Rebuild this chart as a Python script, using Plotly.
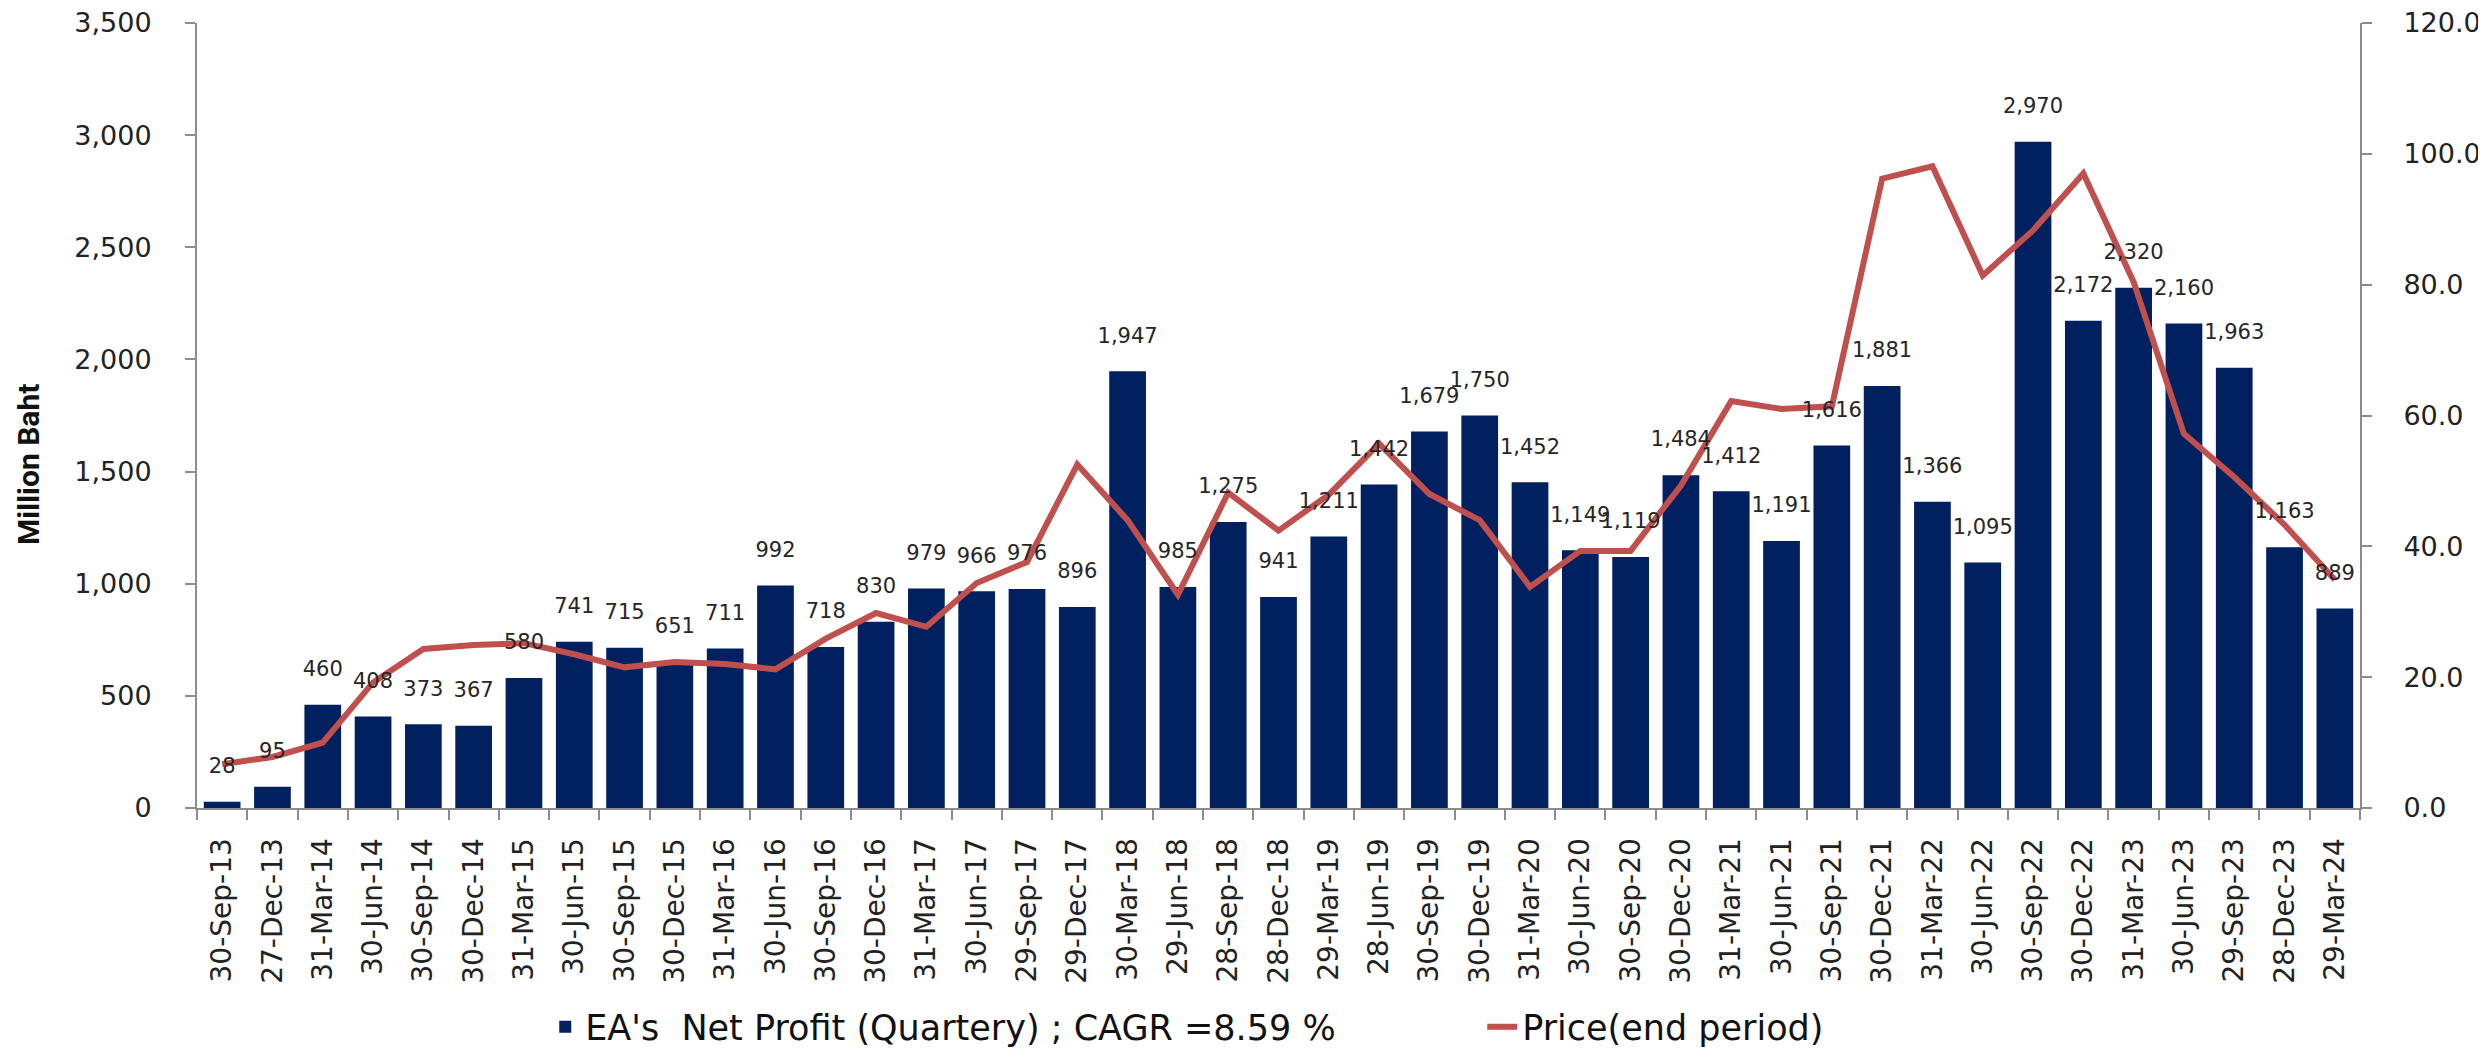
import plotly.graph_objects as go

dates = ["30-Sep-13", "27-Dec-13", "31-Mar-14", "30-Jun-14", "30-Sep-14", "30-Dec-14",
         "31-Mar-15", "30-Jun-15", "30-Sep-15", "30-Dec-15", "31-Mar-16", "30-Jun-16",
         "30-Sep-16", "30-Dec-16", "31-Mar-17", "30-Jun-17", "29-Sep-17", "29-Dec-17",
         "30-Mar-18", "29-Jun-18", "28-Sep-18", "28-Dec-18", "29-Mar-19", "28-Jun-19",
         "30-Sep-19", "30-Dec-19", "31-Mar-20", "30-Jun-20", "30-Sep-20", "30-Dec-20",
         "31-Mar-21", "30-Jun-21", "30-Sep-21", "30-Dec-21", "31-Mar-22", "30-Jun-22",
         "30-Sep-22", "30-Dec-22", "31-Mar-23", "30-Jun-23", "29-Sep-23", "28-Dec-23",
         "29-Mar-24"]

net_profit = [28, 95, 460, 408, 373, 367,
              580, 741, 715, 651, 711, 992,
              718, 830, 979, 966, 976, 896,
              1947, 985, 1275, 941, 1211, 1442,
              1679, 1750, 1452, 1149, 1119, 1484,
              1412, 1191, 1616, 1881, 1366, 1095,
              2970, 2172, 2320, 2160, 1963, 1163,
              889]

price = [6.7, 7.8, 10.0, 19.2, 24.3, 24.9,
         25.2, 23.5, 21.5, 22.3, 22.0, 21.2,
         25.9, 29.8, 27.7, 34.4, 37.6, 52.5,
         44.0, 32.6, 48.2, 42.4, 47.9, 55.7,
         48.0, 44.0, 33.8, 39.3, 39.3, 49.3,
         62.2, 61.0, 61.4, 96.2, 98.1, 81.4,
         88.3, 97.0, 80.4, 57.2, 50.6, 43.3,
         34.9]

bar_name = "EA's\u00a0 Net Profit (Quartery) ; CAGR =8.59 %"
line_name = "Price(end period)"

AXIS_GREY = "#8c8c8c"
TICK_FONT = dict(family="DejaVu Sans", size=27, color="#222222")

fig = go.Figure()

fig.add_trace(go.Bar(
    x=dates, y=net_profit, name=bar_name,
    marker=dict(color="#002060", line=dict(width=0)),
    yaxis="y",
))

fig.add_trace(go.Scatter(
    x=dates, y=price, name=line_name, mode="lines",
    line=dict(color="#C0504D", width=6),
    yaxis="y2",
))

fig.add_trace(go.Scatter(
    x=dates, y=net_profit, mode="markers+text",
    texttemplate="%{y:,}", textposition="top center",
    marker=dict(size=36, color="rgba(0,0,0,0)"),
    textfont=dict(family="DejaVu Sans", size=21, color="#262626"),
    showlegend=False, hoverinfo="skip", cliponaxis=False,
    yaxis="y3",
))

fig.update_layout(
    width=2478, height=1042,
    margin=dict(l=189, r=126, t=15, b=242, pad=0, autoexpand=False),
    paper_bgcolor="white", plot_bgcolor="white",
    bargap=0.27,
    showlegend=True,
    legend=dict(
        orientation="h", x=0.161, xanchor="left", y=-0.279, yanchor="middle",
        font=dict(family="DejaVu Sans", size=35, color="#111111"),
        entrywidth=892, entrywidthmode="pixels",
        bgcolor="rgba(0,0,0,0)",
    ),
    xaxis=dict(
        type="category", tickangle=-90, tickson="boundaries",
        range=[-0.5, len(dates) - 0.5], autorange=False, automargin=False,
        ticks="outside", ticklen=10, tickwidth=2, tickcolor=AXIS_GREY,
        showline=True, linecolor=AXIS_GREY, linewidth=2,
        showgrid=False, tickfont=dict(family="DejaVu Sans", size=28, color="#222222"),
        ticklabelstandoff=17, ticklabeloverflow="allow",
    ),
    yaxis=dict(
        range=[0, 3500], dtick=500, tickformat=",", automargin=False,
        ticks="outside", ticklen=10, tickwidth=2, tickcolor=AXIS_GREY,
        showline=True, linecolor=AXIS_GREY, linewidth=2,
        showgrid=False, zeroline=False, tickfont=TICK_FONT,
        ticklabelstandoff=28, ticklabeloverflow="allow",
    ),
    yaxis2=dict(
        range=[0, 120], dtick=20, tickformat=".1f", overlaying="y", side="right",
        automargin=False,
        ticks="outside", ticklen=10, tickwidth=2, tickcolor=AXIS_GREY,
        showline=True, linecolor=AXIS_GREY, linewidth=2,
        showgrid=False, zeroline=False, tickfont=TICK_FONT,
        ticklabelstandoff=26, ticklabeloverflow="allow",
    ),
    yaxis3=dict(
        range=[0, 3500], overlaying="y", visible=False, automargin=False,
    ),
    annotations=[dict(
        text="<b>Million Baht</b>", textangle=-90, showarrow=False,
        xref="paper", yref="paper", x=(26 - 195) / 2163, y=(808 - 465) / 785,
        xanchor="center", yanchor="middle",
        font=dict(family="Roboto", size=30, color="#111111"),
    )],
)

fig.write_html("out.html")
